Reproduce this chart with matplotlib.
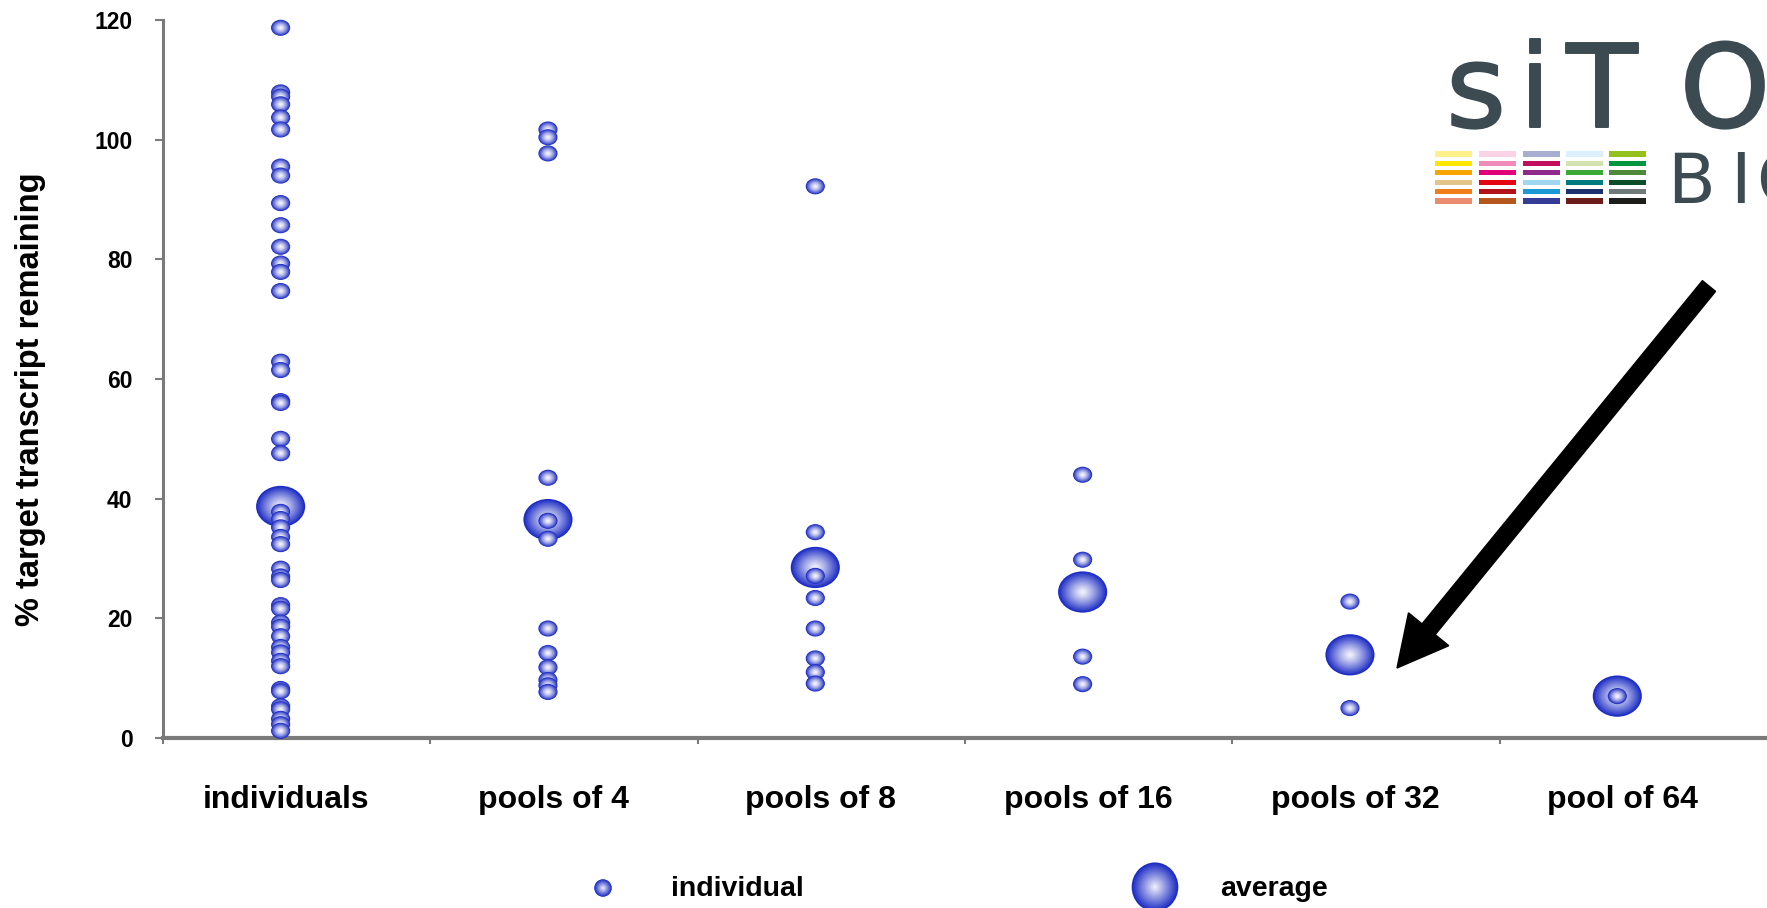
import numpy as np
import matplotlib
matplotlib.use("Agg")
import matplotlib.pyplot as plt
import matplotlib.patheffects as pe
from matplotlib.path import Path
from matplotlib.markers import MarkerStyle
from matplotlib.patches import FancyArrow, Rectangle
from matplotlib.colors import to_rgb

# ---------------- data ----------------
categories = ["individuals", "pools of 4", "pools of 8", "pools of 16", "pools of 32", "pool of 64"]

vals_individuals = [118.7, 107.9, 107.2, 105.9, 103.7, 101.7, 95.5, 94.0, 89.4, 85.7,
                    82.1, 79.3, 77.9, 74.7, 62.9, 61.5, 56.3, 56.0, 50.0, 47.6,
                    37.8, 36.6, 35.2, 33.6, 32.4, 28.3, 27.0, 26.4, 22.2, 21.6,
                    19.3, 18.6, 17.0, 15.2, 14.3, 12.9, 12.0, 8.2, 7.8, 5.3,
                    4.8, 3.2, 2.3, 1.2]
vals_pools4 = [101.7, 100.4, 97.7, 43.5, 36.3, 33.3, 18.3, 14.2, 11.8, 9.7, 8.8, 7.7]
vals_pools8 = [92.2, 34.4, 27.1, 23.4, 18.3, 13.3, 11.0, 9.1]
vals_pools16 = [44.0, 29.8, 13.6, 9.0]
vals_pools32 = [22.8, 5.0]
vals_pool64 = [7.0]
individual_values = [vals_individuals, vals_pools4, vals_pools8,
                     vals_pools16, vals_pools32, vals_pool64]
averages = [38.7, 36.5, 28.5, 24.4, 13.9, 7.0]

y_ticks = [0, 20, 40, 60, 80, 100, 120]

# logo palette (columns of coloured bars)
logo_cols = [
    ["#fff08a", "#ffe600", "#f7a600", "#e3c48a", "#ef7d1a", "#ea8a6e"],
    ["#fbd3e6", "#f08bb9", "#e2007a", "#e30613", "#b3121b", "#b5571c"],
    ["#a8aed0", "#c30d5d", "#8e2a8b", "#9fd6f0", "#1c9ad6", "#353b96"],
    ["#dcf0fb", "#d3e3b0", "#3aaa35", "#007a7c", "#1d3170", "#6b1b1b"],
    ["#95c11f", "#009640", "#4f8a3a", "#0e4d2a", "#6f7a7a", "#1d1d1b"],
]

# ---------------- style ----------------
W, H = 1767, 908
plt.rcParams['font.family'] = ['Liberation Sans', 'DejaVu Sans']
BLUE = np.array(to_rgb("#1c2cc4"))
WHITE = np.array(to_rgb("#f8f8fd"))
GRAY = "#7a7a7a"

circ = Path.unit_circle()
ell_marker = MarkerStyle(Path(circ.vertices * np.array([1.0, 0.84]), circ.codes))
round_marker = MarkerStyle(Path(circ.vertices * np.array([1.0, 1.0]), circ.codes))
tall_marker = MarkerStyle(Path(circ.vertices * np.array([0.95, 1.0]), circ.codes))

NL = 16
radii = np.linspace(1.0, 0.05, NL)


def bubble(axis, x, y, size, marker, power=2.2, z=3):
    f = np.clip(radii, 0, 1) ** power
    cols = [WHITE + (BLUE - WHITE) * fi for fi in f]
    axis.scatter([x] * NL, [y] * NL, s=size * radii ** 2, c=cols, marker=marker,
                 linewidths=0, zorder=z, clip_on=False)


fig = plt.figure(figsize=(W / 100, H / 100), dpi=100)
ax = fig.add_axes([163 / W, 1 - 738 / H, 1 - 163 / W, 718 / H])

xpos = np.arange(len(categories))
off = -0.06
S_SMALL = 190
S_BIG = 1250

for i, avg in enumerate(averages):
    bubble(ax, xpos[i] + off, avg, S_BIG, ell_marker, power=1.2, z=2)
for i, vals in enumerate(individual_values):
    for v in sorted(vals, reverse=True):
        bubble(ax, xpos[i] + off, v, S_SMALL, ell_marker, power=1.5, z=3)

ax.set_xlim(-0.5, len(categories) - 0.5)
ax.set_ylim(0, 120)
ax.set_yticks(y_ticks)
ax.set_yticklabels([str(t) for t in y_ticks], fontsize=16.5, fontweight='bold')
ax.tick_params(axis='y', direction='out', length=6, width=1.5, color=GRAY, pad=16)

ax.set_xticks(np.arange(-0.5, len(categories) - 1, 1.0))
ax.set_xticklabels([])
ax.tick_params(axis='x', which='major', direction='out', length=4.5, width=1.5, color=GRAY)
ax.set_xticks(xpos - 0.04, minor=True)
ax.set_xticklabels(categories, minor=True, fontsize=23, fontweight='bold')
ax.tick_params(axis='x', which='minor', length=0, pad=33.5)

for side in ['top', 'right']:
    ax.spines[side].set_visible(False)
ax.spines['left'].set_color(GRAY)
ax.spines['left'].set_linewidth(2.2)
ax.spines['bottom'].set_color(GRAY)
ax.spines['bottom'].set_linewidth(3.0)
ax.patch.set_alpha(0)

fig.text(31 / W, 1 - 399 / H, "% target transcript remaining", rotation=90,
         ha='center', va='center', fontsize=23.5, fontweight='bold')

# ---------------- overlay: legend, arrow, logo ----------------
ov = fig.add_axes([0, 0, 1, 1], zorder=5)
ov.set_xlim(0, W)
ov.set_ylim(H, 0)
ov.axis('off')
ov.patch.set_alpha(0)

bubble(ov, 603, 888, 160, round_marker, power=1.0)
ov.text(671, 889, "individual", fontsize=20.5, fontweight='bold', ha='left', va='center')
bubble(ov, 1155, 887, 1250, tall_marker, power=1.0)
ov.text(1220, 889, "average", fontsize=20.5, fontweight='bold', ha='left', va='center')

tail = np.array([1709, 286])
tip = np.array([1397, 668])
ov.add_patch(FancyArrow(tail[0], tail[1], tip[0] - tail[0], tip[1] - tail[1],
                        width=17, head_width=52, head_length=50,
                        length_includes_head=True, color='black', zorder=6))

LOGO = "#3c4a52"
thick = [pe.withStroke(linewidth=1.4, foreground=LOGO)]
for ch, x in zip(["s", "i", "T", "O"], [1476, 1535, 1602, 1725]):
    ov.text(x, 127, ch, fontsize=83, color=LOGO, ha='center', va='baseline',
            family=['DejaVu Sans'], path_effects=thick)
for ch, x in zip(["B", "I", "O"], [1691, 1740, 1783]):
    ov.text(x, 203, ch, fontsize=50, color=LOGO, ha='center', va='baseline',
            family=['DejaVu Sans'])

col_x = [1435, 1479, 1523, 1566, 1609]
row_y = [154, 163.3, 172.7, 182.3, 191.7, 201]
for cx, colors in zip(col_x, logo_cols):
    for ry, c in zip(row_y, colors):
        ov.add_patch(Rectangle((cx, ry - 2.6), 37, 5.2, facecolor=c, edgecolor='none'))

fig.savefig("out.png", dpi=100)
